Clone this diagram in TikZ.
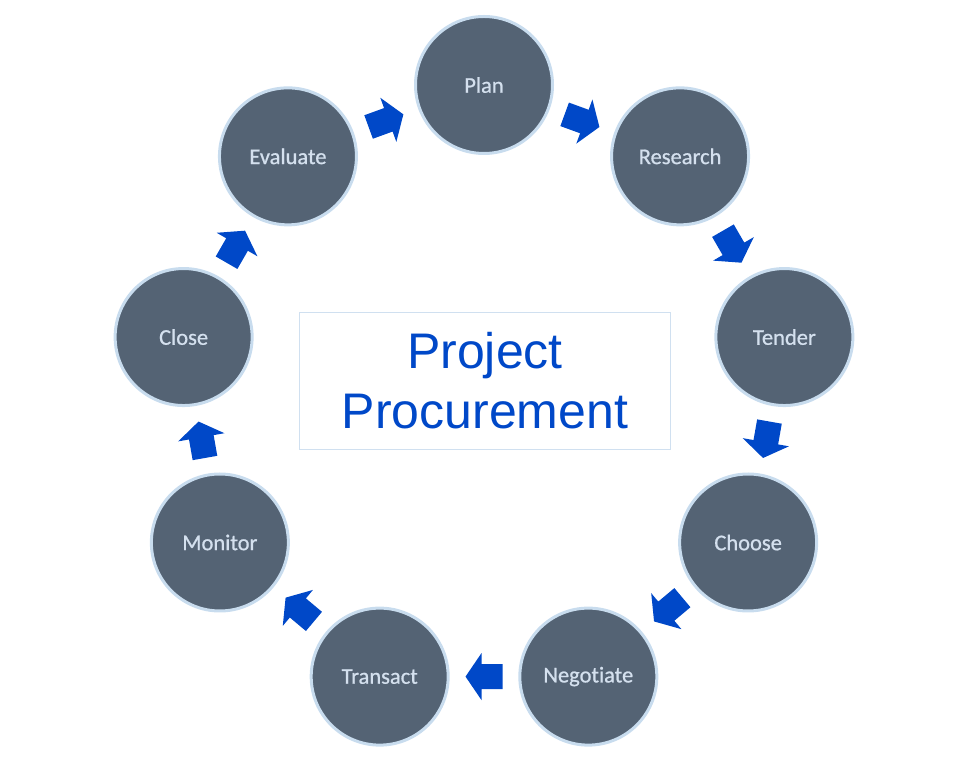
\documentclass[tikz,border=0pt]{standalone}
\usetikzlibrary{calc}
\usepackage{fontspec}
\setmainfont{Carlito}[Ligatures={NoCommon}]
\newfontfamily\labelfont{Carlito}[Ligatures={NoCommon},FakeBold=0.8]
\newfontfamily\arialfont{Liberation Sans}
\definecolor{circfill}{RGB}{84,99,116}
\definecolor{circline}{RGB}{200,220,238}
\definecolor{labelcol}{RGB}{212,224,238}
\definecolor{arrowblue}{RGB}{0,72,200}
\definecolor{titleblue}{RGB}{0,72,200}
\definecolor{boxline}{RGB}{208,224,240}
\begin{document}
\begin{tikzpicture}[x=1pt,y=1pt,
  stage/.style={circle,fill=circfill,draw=circline,line width=3pt,minimum size=137pt,inner sep=0pt,
    text=labelcol,font=\labelfont\fontsize{22.5}{26}\selectfont},
  blockarrow/.pic={\fill[arrowblue] (18.5,0) -- (2.5,23.5) -- (2.5,12.5) -- (-18.5,12.5) -- (-18.5,-12.5) -- (2.5,-12.5) -- (2.5,-23.5) -- cycle;}
]
\useasboundingbox (0,0) rectangle (980,774);
\coordinate (c) at (484,384);
\node[draw=boxline,line width=1.5pt,minimum width=371pt,minimum height=137pt,inner sep=0pt,
  text=titleblue,font=\arialfont\fontsize{50}{60}\selectfont,align=center] (title) at (485,393) {Project\\Procurement};
\foreach \name [count=\k from 0] in {Plan,Research,Tender,Choose,Negotiate,Transact,Monitor,Close,Evaluate}{
  \node[stage] (s\k) at ($(c)+({90-40*\k}:305)$) {\name};
  \pic[rotate={-20-40*\k}] (a\k) at ($(c)+({70-40*\k}:286.6)$) {blockarrow};
}
\end{tikzpicture}
\end{document}
